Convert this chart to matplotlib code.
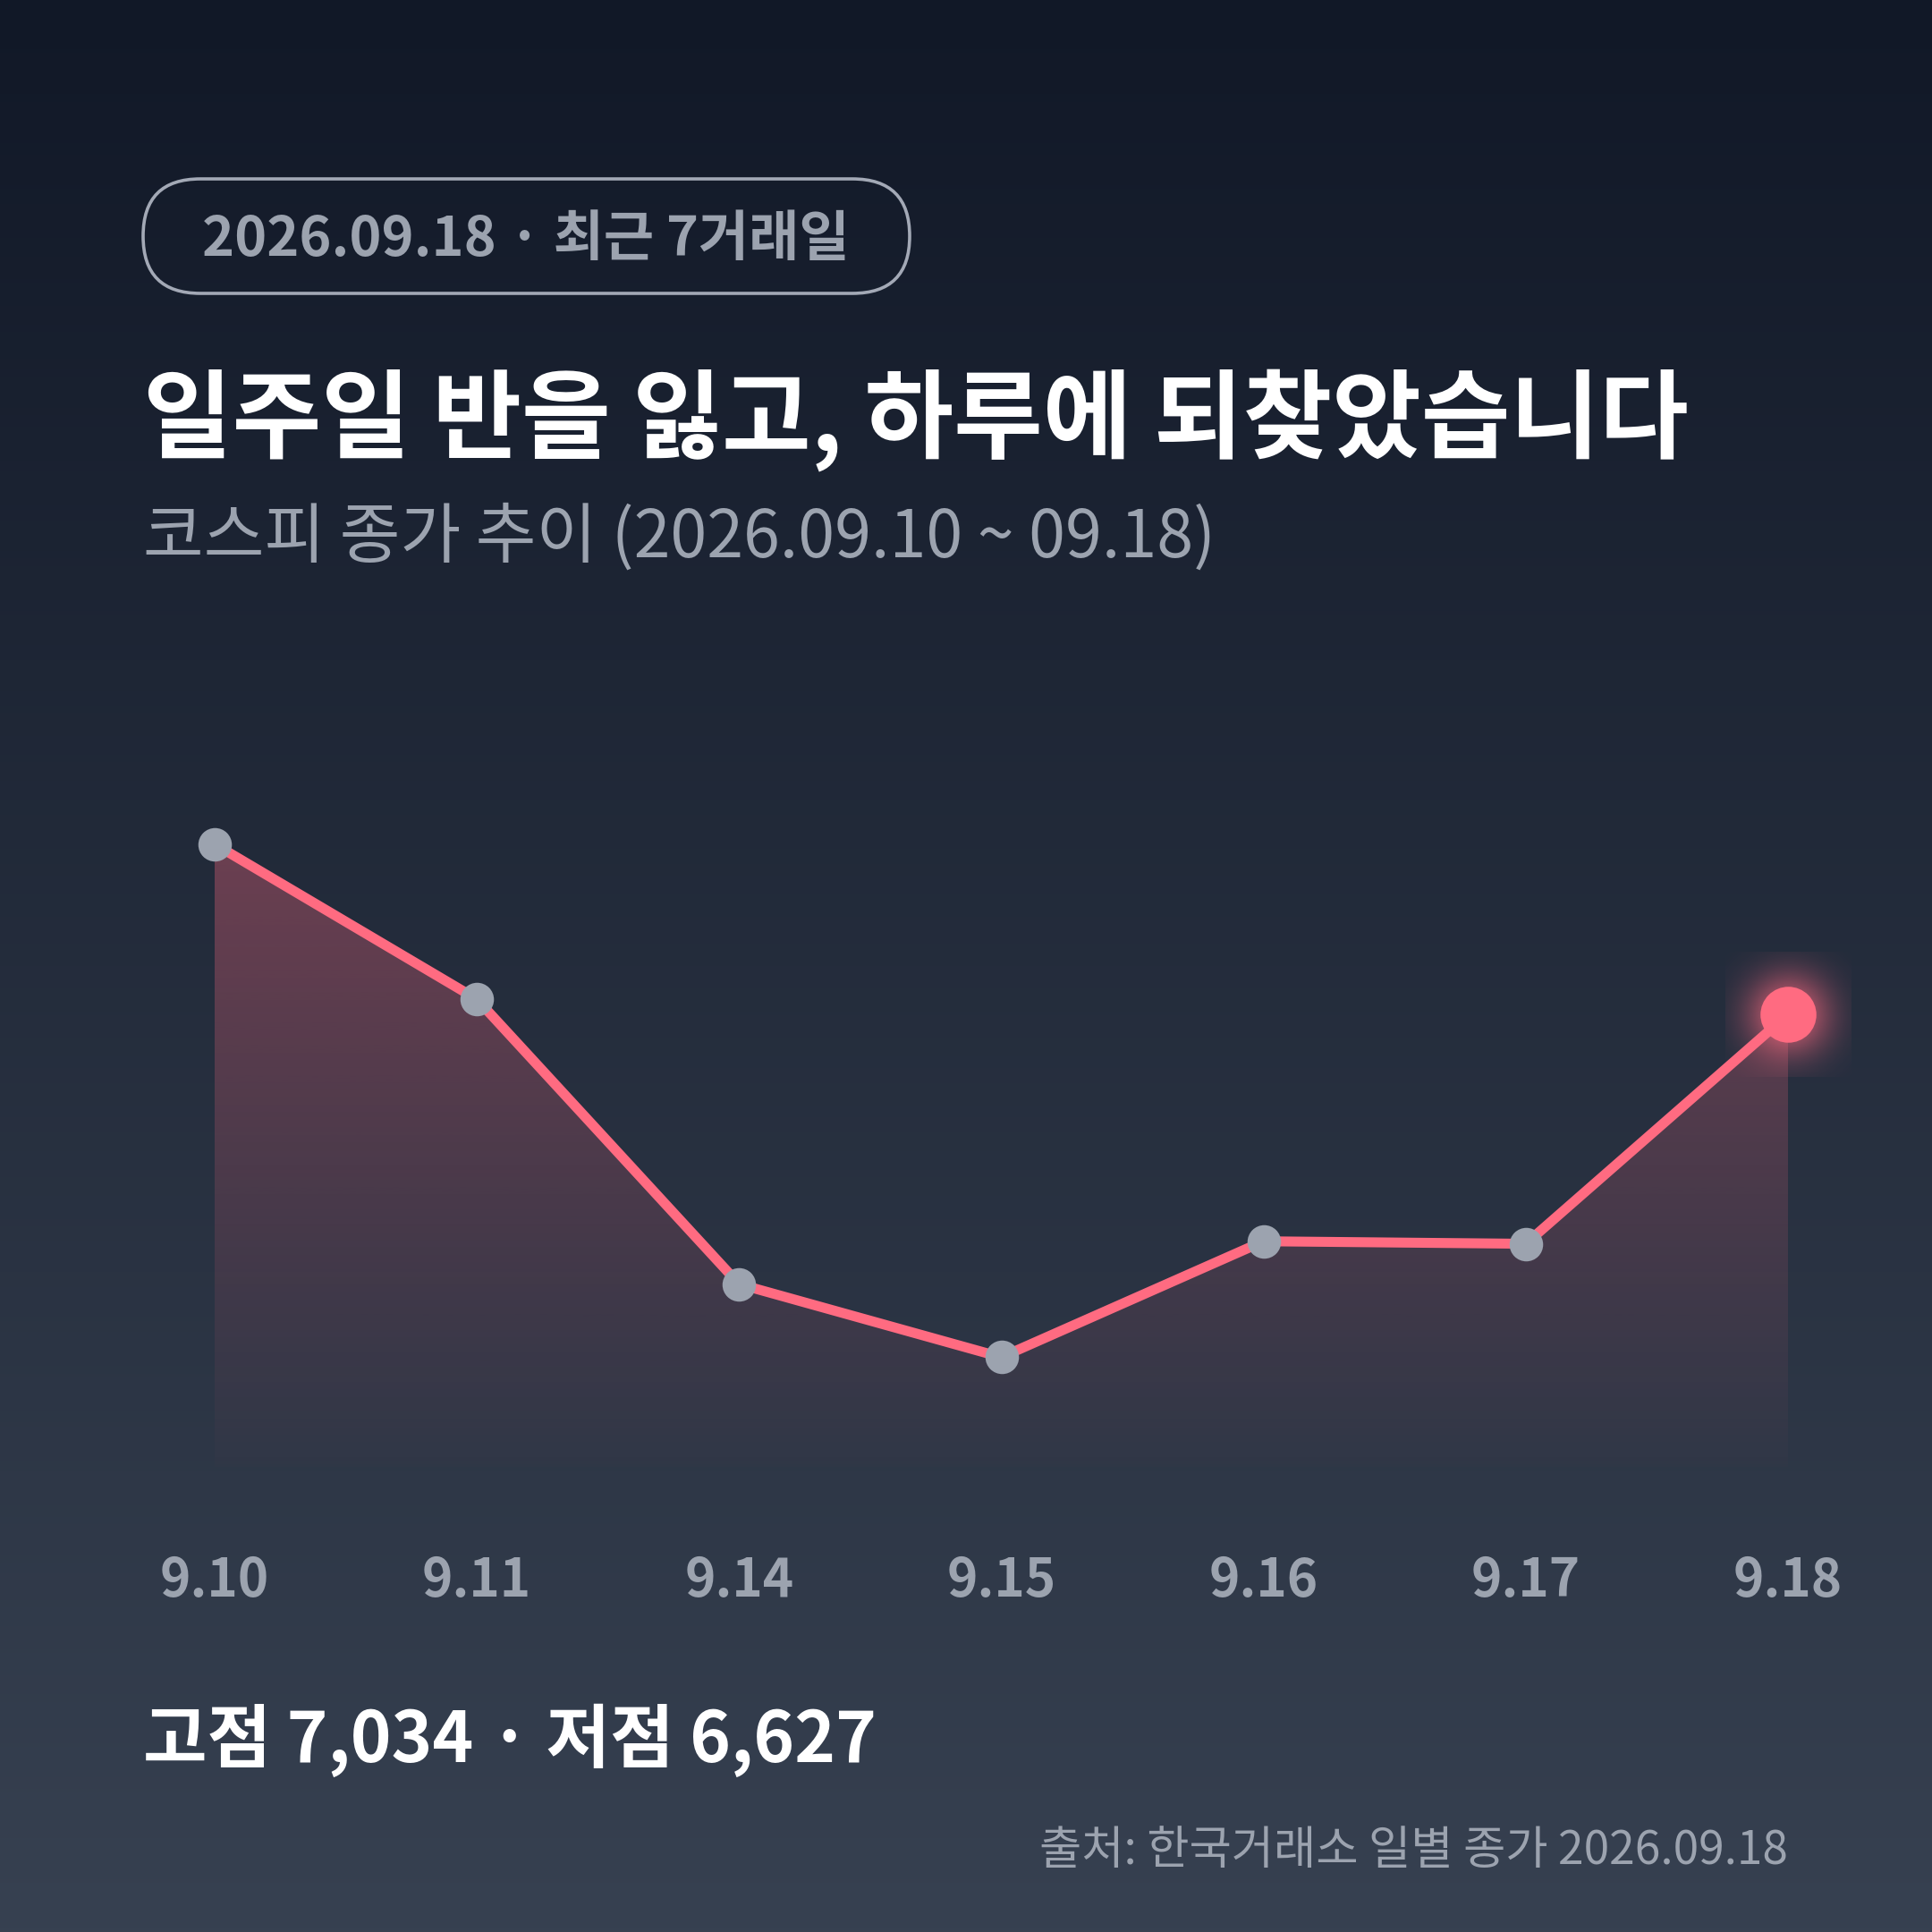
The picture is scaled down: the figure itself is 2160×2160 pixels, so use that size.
import numpy as np
import matplotlib
matplotlib.use("Agg")
import matplotlib.pyplot as plt
from matplotlib.patches import FancyBboxPatch
from matplotlib.transforms import blended_transform_factory

plt.rcParams['font.family'] = ['Noto Sans CJK KR', 'DejaVu Sans']

# data
dates = ["9.10", "9.11", "9.14", "9.15", "9.16", "9.17", "9.18"]
closes = [7034, 6911, 6685, 6627, 6719, 6717, 6899]

badge_text = "2026.09.18 · 최근 7거래일"
title_text = "일주일 반을 잃고, 하루에 되찾았습니다"
subtitle_text = "코스피 종가 추이 (2026.09.10 ~ 09.18)"
stat_text = "고점 7,034 · 저점 6,627"
source_text = "출처: 한국거래소 일별 종가 2026.09.18"

PINK = "#ff6b81"
GRAY = "#9ca3af"

W = 2160
fig = plt.figure(figsize=(21.6, 21.6), dpi=100)

# background in pixel coords
bg = fig.add_axes([0, 0, 1, 1])
top = np.array([0x11, 0x18, 0x27]) / 255
bot = np.array([0x37, 0x41, 0x51]) / 255
t = np.linspace(0, 1, 512)[:, None]
grad = (top[None, :] * (1 - t) + bot[None, :] * t)[:, None, :]
bg.imshow(grad, extent=[0, W, W, 0], aspect="auto", zorder=0)
bg.set_xlim(0, W)
bg.set_ylim(W, 0)
bg.axis("off")

# badge
pill = FancyBboxPatch((160, 200), 857, 128, boxstyle="round,pad=0,rounding_size=64",
                      facecolor="none", edgecolor="#a3a9b6", linewidth=2.6, zorder=2)
bg.add_patch(pill)
bg.text(588, 268, badge_text, ha="center", va="center", fontsize=44,
        fontweight="bold", color=GRAY, zorder=3)

bg.text(160, 503, title_text, ha="left", va="baseline", fontsize=78,
        fontweight="bold", color="white", zorder=3)
bg.text(160, 623, subtitle_text, ha="left", va="baseline", fontsize=53,
        color=GRAY, zorder=3)
bg.text(160, 1970, stat_text, ha="left", va="baseline", fontsize=56,
        fontweight="bold", color="white", zorder=3)
bg.text(1999, 2084, source_text, ha="right", va="baseline", fontsize=37,
        color=GRAY, zorder=3)

# chart
ax = fig.add_axes([240 / W, 1 - 1640 / W, 1759 / W, 940 / W])
ax.patch.set_alpha(0)
x = np.arange(len(closes))
y = np.array(closes)
ymin, ymax = 6540, 7207

poly = ax.fill_between(x, y, ymin, color="none", linewidth=0)
fill = np.zeros((256, 1, 4))
fill[..., 0] = 1.0
fill[..., 1] = 107 / 255
fill[..., 2] = 129 / 255
fill[:, 0, 3] = np.linspace(0.015, 0.34, 256)
im = ax.imshow(fill, extent=[0, x[-1], ymin, y.max()], origin="lower",
               aspect="auto", zorder=1)
im.set_clip_path(poly.get_paths()[0], transform=ax.transData)

ax.plot(x, y, color=PINK, linewidth=8, solid_capstyle="round",
        solid_joinstyle="round", zorder=3, clip_on=False)
ax.plot(x[:-1], y[:-1], "o", color=GRAY, markersize=27, markeredgewidth=0,
        zorder=4, clip_on=False)

# glow on last point
n = 141
r = np.hypot(*np.meshgrid(np.arange(n) - n / 2, np.arange(n) - n / 2))
glow = np.zeros((n, n, 4))
glow[..., 0] = 1.0
glow[..., 1] = 107 / 255
glow[..., 2] = 129 / 255
glow[..., 3] = 0.8 * np.exp(-(r / 45) ** 2)
hx = 70 * (x[-1] - x[0]) / 1759
hy = 70 * (ymax - ymin) / 940
ax.imshow(glow, extent=[x[-1] - hx, x[-1] + hx, y[-1] - hy, y[-1] + hy],
          aspect="auto", zorder=5, clip_on=False)
ax.plot(x[-1], y[-1], "o", color=PINK, markersize=45, markeredgewidth=0,
        zorder=6, clip_on=False)

ax.set_xlim(0, x[-1])
ax.set_ylim(ymin, ymax)
ax.axis("off")

tr = blended_transform_factory(ax.transData, fig.transFigure)
for i, d in enumerate(dates):
    ax.text(i, 1 - 1768 / W, d, transform=tr, ha="center", va="center",
            fontsize=42, fontweight="bold", color=GRAY)

fig.savefig("out.png", dpi=100)
